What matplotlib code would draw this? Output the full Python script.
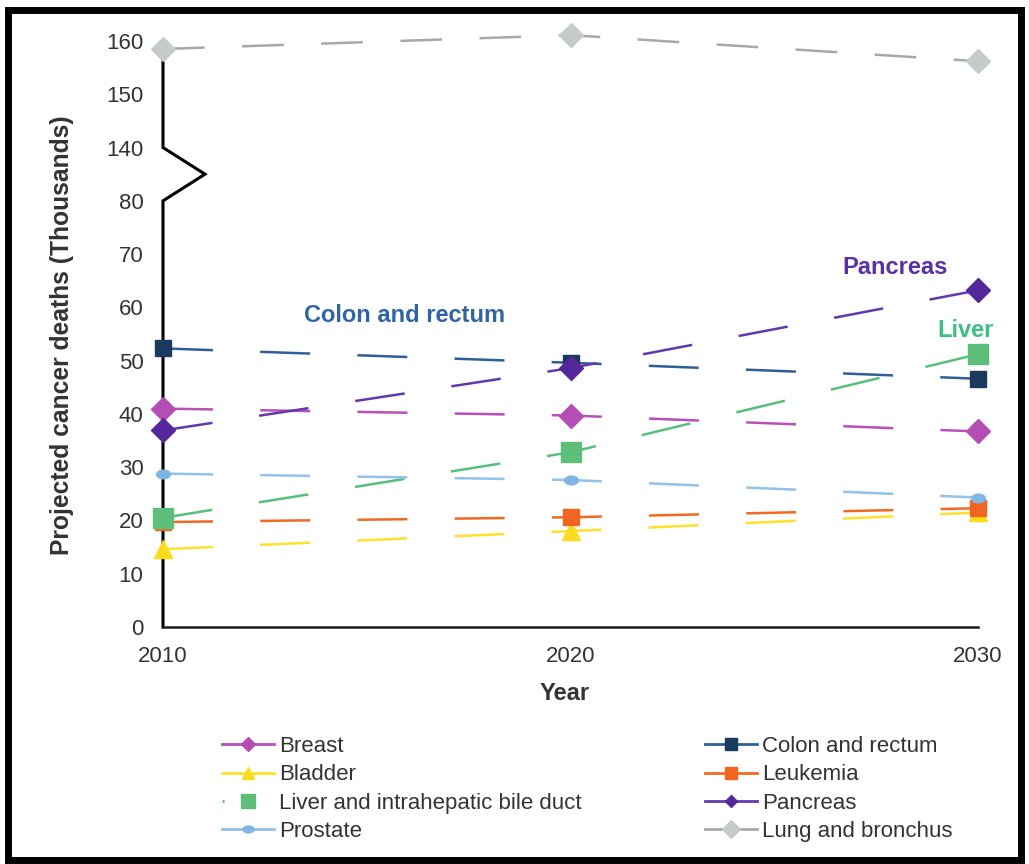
import matplotlib
matplotlib.use('Agg')
import matplotlib.pyplot as plt
import matplotlib.transforms as mtransforms
from matplotlib.lines import Line2D
from matplotlib.path import Path
from matplotlib.patches import Rectangle

plt.rcParams['font.family'] = ['Liberation Sans', 'DejaVu Sans']
plt.rcParams['lines.scale_dashes'] = False

# ---------------- data ----------------
years = [2010, 2020, 2030]
breast = [41.0, 39.7, 36.7]
colon = [52.3, 49.6, 46.6]
bladder = [14.6, 18.0, 21.5]
leukemia = [19.7, 20.6, 22.3]
liver = [20.5, 32.8, 51.2]
pancreas = [36.9, 48.6, 63.2]
prostate = [28.8, 27.6, 24.3]
lung = [158.5, 161.1, 156.2]

ytick_values = [0, 10, 20, 30, 40, 50, 60, 70, 80, 140, 150, 160]
xtick_labels = ['2010', '2020', '2030']
annotations = ['Colon and rectum', 'Pancreas', 'Liver']

# axis break: 80 -> 140 compressed into one tick step
BREAK_LO, BREAK_HI, STEP = 80, 140, 10


def ty(v):
    return v if v <= BREAK_LO else v - (BREAK_HI - BREAK_LO) + STEP


W, H = 1029, 864
fig = plt.figure(figsize=(W / 100, H / 100), dpi=100)
ax = fig.add_axes([163 / W, 1 - 627 / H, 815 / W, 586 / H])
ax.set_xlim(2010, 2030)
ax.set_ylim(0, ty(160))

# ellipse marker for prostate
ell = Path.unit_circle().transformed(mtransforms.Affine2D().scale(1.6, 1.0))

series = [
    # label, data, line color, marker color, marker, ms
    ('Breast', breast, '#b94fba', '#b44db4', 'D', 12),
    ('Colon and rectum', colon, '#2f5f99', '#1b3a5e', 's', 12),
    ('Bladder', bladder, '#fde12a', '#fbdc1c', '^', 13),
    ('Leukemia', leukemia, '#f26a21', '#f26520', 's', 12),
    ('Liver and intrahepatic bile duct', liver, '#55c07a', '#5ebf7b', 's', 14),
    ('Pancreas', pancreas, '#6338ad', '#54289a', 'D', 12),
    ('Prostate', prostate, '#92c2ea', '#80b6e4', ell, 10),
    ('Lung and bronchus', lung, '#a8a8a8', '#c5ccc8', 'D', 12.5),
]

for label, vals, lc, mc, mk, ms in series:
    dash = (30, 27) if label == 'Lung and bronchus' else (36, 34)
    ax.plot(years, [ty(v) for v in vals], color=lc, lw=1.8, dashes=dash,
            marker=mk, ms=ms, markerfacecolor=mc, markeredgecolor=mc,
            clip_on=False, zorder=3)

# spines
for s in ['top', 'right', 'left']:
    ax.spines[s].set_visible(False)
ax.spines['bottom'].set_color('#1a1a1a')
ax.spines['bottom'].set_linewidth(1.8)

# custom left axis with zig-zag break
trans = mtransforms.blended_transform_factory(ax.transAxes, ax.transData)
ax.add_line(Line2D([0, 0, 42 / 815, 0, 0],
                   [0, ty(BREAK_LO), (ty(BREAK_LO) + ty(BREAK_HI)) / 2, ty(BREAK_HI), ty(lung[0])],
                   transform=trans, color='black', lw=2.2, clip_on=False, zorder=2,
                   solid_joinstyle='miter'))

tc = '#333333'
ax.set_yticks([ty(v) for v in ytick_values], labels=[str(v) for v in ytick_values])
ax.set_xticks(years, labels=xtick_labels)
ax.tick_params(length=0, pad=14, labelsize=16, labelcolor=tc)

fig.text(62 / W, 1 - 335 / H, 'Projected cancer deaths (Thousands)', rotation=90,
         ha='center', va='center', fontsize=17.7, fontweight='bold', color=tc)
fig.text(565 / W, 1 - 693 / H, 'Year', ha='center', va='center', fontsize=17,
         fontweight='bold', color=tc)

# annotations
ax.text(2015.94, 58.4, annotations[0], ha='center', va='center', fontsize=17,
        fontweight='bold', color='#2f64a5')
ax.text(2027.96, 67.4, annotations[1], ha='center', va='center', fontsize=17,
        fontweight='bold', color='#5a31a3')
ax.text(2029.7, 55.75, annotations[2], ha='center', va='center', fontsize=17,
        fontweight='bold', color='#3fbf85', clip_on=False)

# legend handles
leg_ms = {'Breast': 7, 'Colon and rectum': 8, 'Bladder': 9, 'Leukemia': 8,
          'Liver and intrahepatic bile duct': 10, 'Pancreas': 6, 'Prostate': 8,
          'Lung and bronchus': 9}
handles = {}
for label, vals, lc, mc, mk, ms in series:
    kw = dict(color=lc, lw=2.0, marker=mk, ms=leg_ms[label],
              markerfacecolor=mc, markeredgecolor=mc)
    if label.startswith('Liver'):
        kw['dashes'] = (1.5, 100)
    handles[label] = Line2D([], [], **kw)

left_labels = ['Breast', 'Bladder', 'Liver and intrahepatic bile duct', 'Prostate']
right_labels = ['Colon and rectum', 'Leukemia', 'Pancreas', 'Lung and bronchus']
common = dict(loc='upper left', frameon=False, fontsize=16, handlelength=2.35,
              handletextpad=0.2, labelspacing=0.33, borderpad=0, borderaxespad=0,
              labelcolor=tc)
fig.legend([handles[l] for l in left_labels], left_labels,
           bbox_to_anchor=(222 / W, 1 - 736 / H), **common)
fig.legend([handles[l] for l in right_labels], right_labels,
           bbox_to_anchor=(705 / W, 1 - 736 / H), **common)

# outer frame
fig.patches.append(Rectangle((8 / W, 1 - 860 / H), (1021 - 8) / W, (860 - 10) / H,
                             transform=fig.transFigure, fill=False, lw=5,
                             edgecolor='black'))

fig.savefig('out.png', dpi=100)
